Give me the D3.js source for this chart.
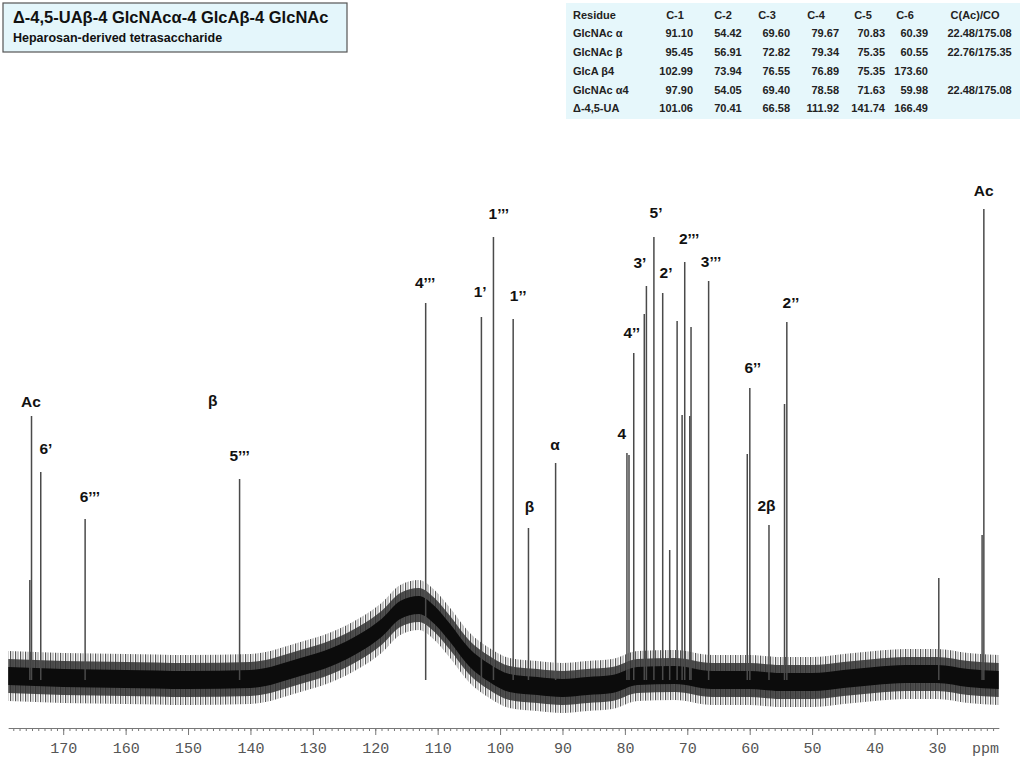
<!DOCTYPE html>
<html>
<head>
<meta charset="utf-8">
<script src="https://cdn.jsdelivr.net/npm/d3@7"></script>
<style>
  body { margin: 0; background: #fff; }
  svg { display: block; }
  .lbl { font-family: "Liberation Sans", Arial, sans-serif; font-weight: bold; font-size: 15.5px; fill: #111; }
  .tbl { font-family: "Liberation Sans", Arial, sans-serif; font-weight: bold; font-size: 11px; fill: #222; }
  .axis text { font-family: "Liberation Mono", monospace; font-size: 15px; fill: #555; }
  .axis path, .axis line { stroke: #777; }
</style>
</head>
<body>
<div id="chart"></div>
<script>
// peak shifts (ppm) and heights (baseline = 0, Ac = ~94)
const peakPpm    = [175.35, 175.08, 173.60, 166.49, 141.74, 111.92, 102.99, 101.06, 97.90, 95.45, 91.10,
                    79.67, 79.34, 78.58, 76.89, 76.55, 75.35, 73.94, 72.82, 71.63, 70.83, 70.41, 69.60, 69.40,
                    66.58, 60.39, 59.98, 56.91, 54.42, 54.05, 29.70, 22.76, 22.48];
const peakHeight = [20, 52.8, 41.6, 32.2, 40.2, 75.4, 72.6, 88.6, 72.2, 30.4, 43.4,
                    45.4, 45, 65.4, 73.2, 78.8, 88.6, 77.4, 26, 71.8, 53, 83.6, 52.8, 70.6,
                    79.8, 45.2, 58.4, 31, 55.2, 71.6, 20.4, 29, 94.2];

// peak assignments: text, ppm position, height level
const labelText  = ["Ac", "6’", "6’’’", "β", "5’’’", "4’’’", "1’", "1’’’", "1’’", "β", "α",
                    "4", "4’’", "3’", "5’", "2’", "2’’’", "3’’’", "6’’", "2β", "2’’", "Ac"];
const labelPpm   = [175.17, 172.77, 165.73, 146.05, 141.73, 112.0, 103.2, 100.2, 97.1, 95.3, 91.2,
                    80.5, 78.9, 77.6, 75.0, 73.4, 69.7, 66.2, 59.5, 57.3, 53.4, 22.5];
const labelLevel = [55.6, 46.2, 36.6, 55.8, 44.8, 79.4, 77.6, 93.2, 76.8, 34.6, 47,
                    49.2, 69.4, 83.4, 93.4, 81.4, 88.2, 83.6, 62.4, 34.8, 75.4, 97.8];

// baseline (noise centre) with the broad hump near 115 ppm
const basePpm   = [178.8, 170, 160, 150, 140, 132, 127, 122.5, 119, 116, 113, 110.5, 108, 105, 101.7,
                   98.5, 94, 90, 86, 82, 78, 72, 66, 60, 55, 50, 45, 40, 35, 30, 25, 20.1];
const baseLevel = [0.8, 0.4, 0.2, 0, 0.2, 2.6, 4.6, 7.4, 10.4, 14, 15, 13, 9.4, 4.6, 1.4,
                   -0.6, -1.2, -1.6, -1.2, -0.8, 0.8, 1, 0, 0, -0.4, -0.4, 0.2, 0.8, 1.2, 1.2, 0.4, 0];
const noiseSpike = 5;    // spike envelope half-width
const noiseBody = 3.4;   // main band half-width
const noiseCore = 1.8;   // dense core half-width

const axisTicks = [170, 160, 150, 140, 130, 120, 110, 100, 90, 80, 70, 60, 50, 40, 30];

const title = "Δ-4,5-UAβ-4 GlcNAcα-4 GlcAβ-4 GlcNAc";
const subtitle = "Heparosan-derived tetrasaccharide";

const tableHead = ["Residue", "C-1", "C-2", "C-3", "C-4", "C-5", "C-6", "C(Ac)/CO"];
const tableRows = [
  ["GlcNAc α",  "91.10",  "54.42", "69.60", "79.67",  "70.83",  "60.39",  "22.48/175.08"],
  ["GlcNAc β",  "95.45",  "56.91", "72.82", "79.34",  "75.35",  "60.55",  "22.76/175.35"],
  ["GlcA β4",   "102.99", "73.94", "76.55", "76.89",  "75.35",  "173.60", ""],
  ["GlcNAc α4", "97.90",  "54.05", "69.40", "78.58",  "71.63",  "59.98",  "22.48/175.08"],
  ["Δ-4,5-UA",  "101.06", "70.41", "66.58", "111.92", "141.74", "166.49", ""]
];

const width = 1024, height = 768;
const svg = d3.select("#chart").append("svg")
    .attr("width", width)
    .attr("height", height);

const defs = svg.append("defs");
const hatch = defs.append("pattern")
    .attr("id", "hatch")
    .attr("patternUnits", "userSpaceOnUse")
    .attr("width", 5).attr("height", 7);
hatch.append("rect").attr("width", 5).attr("height", 7).attr("fill", "#fff");
hatch.append("rect").attr("x", 0).attr("width", 1.2).attr("height", 7).attr("fill", "#555");
hatch.append("rect").attr("x", 2.5).attr("width", 1).attr("height", 7).attr("fill", "#888");

const x = d3.scaleLinear().domain([178.8, 20.1]).range([8.3, 998.7]);
const y = d3.scaleLinear().domain([0, 100]).range([680, 180]);

// noise bands
const base = basePpm.map((p, i) => ({p: p, v: baseLevel[i]}));
const band = (w) => d3.area()
    .x(d => x(d.p))
    .y0(d => y(d.v - w))
    .y1(d => y(d.v + w))
    .curve(d3.curveMonotoneX);

svg.append("path").datum(base)
    .attr("d", band(noiseSpike))
    .attr("fill", "url(#hatch)");
svg.append("path").datum(base)
    .attr("d", band(noiseBody))
    .attr("fill", "#333")
    .attr("opacity", 0.85);
svg.append("path").datum(base)
    .attr("d", band(noiseCore))
    .attr("fill", "#0c0c0c");

// peaks
svg.append("g").selectAll("line")
    .data(peakPpm)
    .enter().append("line")
    .attr("x1", d => x(d))
    .attr("x2", d => x(d))
    .attr("y1", y(0))
    .attr("y2", (d, i) => y(peakHeight[i]))
    .attr("stroke", "#4a4a4a")
    .attr("stroke-width", 1.5);

// assignments
svg.append("g").selectAll("text")
    .data(labelText)
    .enter().append("text")
    .attr("class", "lbl")
    .attr("x", (d, i) => x(labelPpm[i]))
    .attr("y", (d, i) => y(labelLevel[i]))
    .attr("dy", "0.35em")
    .attr("text-anchor", "middle")
    .text(d => d);

// axis
const axisY = 728;
svg.append("g")
    .attr("class", "axis")
    .attr("transform", `translate(0,${axisY})`)
    .call(d3.axisBottom(x).tickValues(d3.range(21, 179, 1)).tickSize(3).tickSizeOuter(0).tickFormat(""));
svg.append("g")
    .attr("class", "axis")
    .attr("transform", `translate(0,${axisY})`)
    .call(d3.axisBottom(x).tickValues(axisTicks).tickSize(7).tickSizeOuter(0).tickPadding(7).tickFormat(d3.format("d")));

svg.append("text")
    .attr("x", 999)
    .attr("y", axisY + 25)
    .attr("text-anchor", "end")
    .style("font-family", "Liberation Mono, monospace")
    .style("font-size", "15px")
    .style("fill", "#555")
    .text("ppm");

// title box
svg.append("rect")
    .attr("x", 3).attr("y", 3)
    .attr("width", 344).attr("height", 49)
    .attr("fill", "#e4f6fb")
    .attr("stroke", "#555")
    .attr("stroke-width", 1.2);
svg.append("text")
    .attr("x", 13).attr("y", 23)
    .style("font-family", "Liberation Sans, Arial, sans-serif")
    .style("font-weight", "bold")
    .style("font-size", "16.5px")
    .style("fill", "#111")
    .text(title);
svg.append("text")
    .attr("x", 13).attr("y", 42)
    .style("font-family", "Liberation Sans, Arial, sans-serif")
    .style("font-weight", "bold")
    .style("font-size", "12.5px")
    .style("fill", "#111")
    .text(subtitle);

// shift table
svg.append("rect")
    .attr("x", 566).attr("y", 3)
    .attr("width", 454).attr("height", 116)
    .attr("fill", "#e6f7fb");

const headX = [573, 675, 723, 767, 816, 863, 905, 975];
const colRight = [0, 693, 741.7, 790, 839, 885, 928, 1011.7];
const rowY = [19, 37, 56, 75, 94, 112];

const tbl = svg.append("g");
tbl.selectAll(".head")
    .data(tableHead)
    .enter().append("text")
    .attr("class", "tbl head")
    .attr("x", (d, i) => headX[i])
    .attr("y", rowY[0])
    .attr("text-anchor", (d, i) => i === 0 ? "start" : "middle")
    .text(d => d);

tableRows.forEach((row, r) => {
  tbl.selectAll(".r" + r)
      .data(row)
      .enter().append("text")
      .attr("class", "tbl r" + r)
      .attr("x", (d, i) => i === 0 ? headX[0] : colRight[i])
      .attr("y", rowY[r + 1])
      .attr("text-anchor", (d, i) => i === 0 ? "start" : "end")
      .text(d => d);
});
</script>
</body>
</html>
